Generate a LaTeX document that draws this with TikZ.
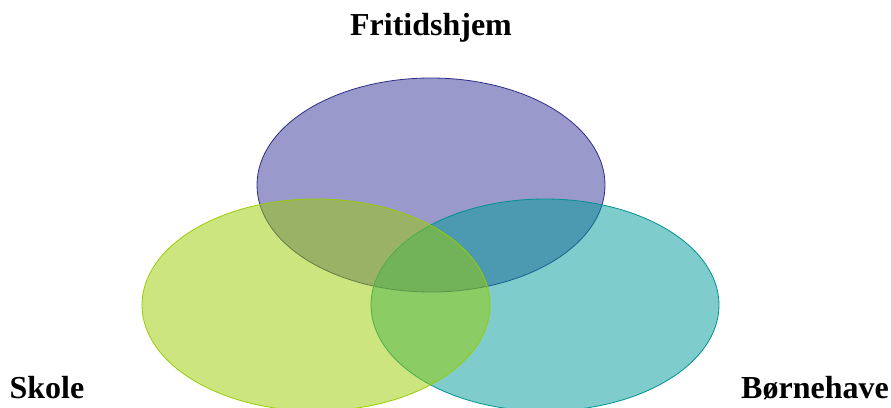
\documentclass[tikz,border=0pt]{standalone}
\usepackage{fontspec}
\setmainfont{Liberation Serif}
\usetikzlibrary{positioning}
\definecolor{fritblue}{RGB}{51,51,153}
\definecolor{skolegreen}{RGB}{153,204,0}
\definecolor{bhteal}{RGB}{0,153,153}

\begin{document}
\begin{tikzpicture}[x=0.75pt,y=-0.75pt,
  every node/.style={font=\fontsize{24}{28}\selectfont\bfseries},
  set/.style={draw,line width=0.6pt,fill opacity=0.5,draw opacity=1},
  lbl/.style={inner sep=0pt,anchor=base}]
\useasboundingbox (0,0) rectangle (891,407);
\filldraw[set,draw=fritblue!90!black,fill=fritblue] (431,185) ellipse [x radius=174,y radius=107];
\filldraw[set,draw=bhteal!95!black,fill=bhteal] (545,305) ellipse [x radius=174,y radius=106];
\filldraw[set,draw=skolegreen,fill=skolegreen] (316,305) ellipse [x radius=174,y radius=106];
\node[lbl] (frit) at (431,35) {Fritidshjem};
\node[lbl] (skole) at (47,398) {Skole};
\node[lbl] (born) at (815,398) {Børnehave};
\end{tikzpicture}
\end{document}
